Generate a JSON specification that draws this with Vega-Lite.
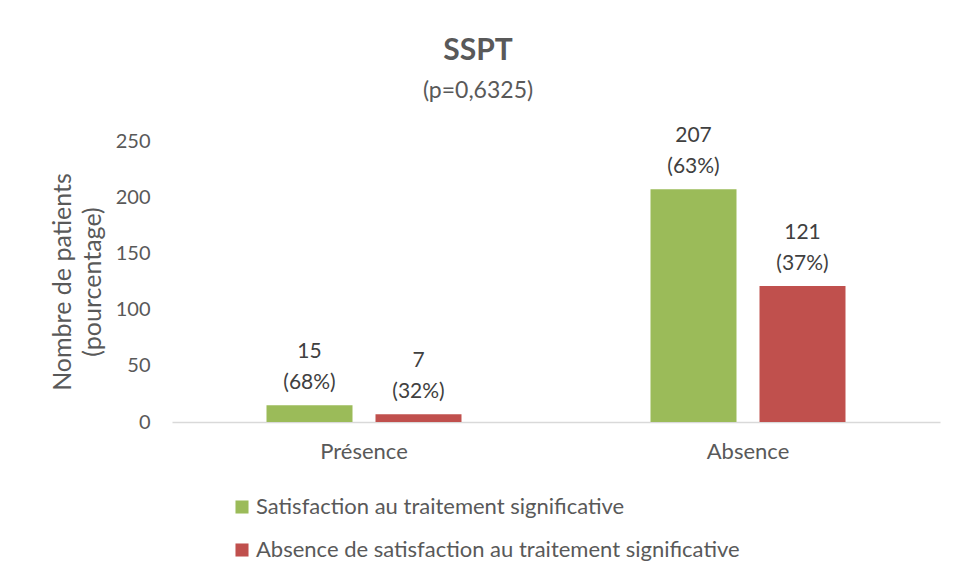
{
  "$schema": "https://vega.github.io/schema/vega-lite/v6.json",
  "autosize": {"type": "none"},
  "width": 768,
  "height": 281,
  "padding": {"left": 172, "top": 141, "right": 17, "bottom": 154},
  "background": "white",
  "config": {
    "font": "Lato",
    "view": {"stroke": null}
  },
  "title": {
    "text": "SSPT",
    "subtitle": "(p=0,6325)",
    "font": "Lato",
    "fontSize": 30,
    "fontWeight": "bold",
    "color": "#595959",
    "subtitleFont": "Lato",
    "subtitleFontSize": 23,
    "subtitleColor": "#595959",
    "subtitlePadding": 14,
    "anchor": "middle",
    "dx": -78,
    "offset": 22
  },
  "data": {
    "values": [
      {"groupe": "Présence", "serie": "Satisfaction au traitement significative", "n": 15, "label": "15\n(68%)"},
      {"groupe": "Présence", "serie": "Absence de satisfaction au traitement significative", "n": 7, "label": "7\n(32%)"},
      {"groupe": "Absence", "serie": "Satisfaction au traitement significative", "n": 207, "label": "207\n(63%)"},
      {"groupe": "Absence", "serie": "Absence de satisfaction au traitement significative", "n": 121, "label": "121\n(37%)"}
    ]
  },
  "encoding": {
    "x": {
      "field": "groupe",
      "type": "nominal",
      "sort": ["Présence", "Absence"],
      "scale": {"paddingInner": 0, "paddingOuter": 0},
      "axis": {
        "title": null,
        "labelAngle": 0,
        "labelFontSize": 22,
        "labelColor": "#595959",
        "labelFont": "Lato",
        "labelPadding": 19,
        "ticks": false,
        "domainColor": "#d9d9d9",
        "domainWidth": 1.5
      }
    },
    "xOffset": {
      "field": "serie",
      "type": "nominal",
      "sort": ["Satisfaction au traitement significative", "Absence de satisfaction au traitement significative"],
      "scale": {"paddingInner": 0.211, "paddingOuter": 0.867}
    },
    "y": {
      "field": "n",
      "type": "quantitative",
      "scale": {"domain": [0, 250]},
      "axis": {
        "title": ["Nombre de patients", "(pourcentage)"],
        "titleFontSize": 25,
        "titleFontWeight": "normal",
        "titleColor": "#595959",
        "titleFont": "Lato",
        "titleLineHeight": 30,
        "titlePadding": 10,
        "values": [0, 50, 100, 150, 200, 250],
        "labelFontSize": 20,
        "labelColor": "#595959",
        "labelFont": "Lato",
        "labelPadding": 22,
        "ticks": false,
        "domain": false,
        "grid": false
      }
    }
  },
  "layer": [
    {
      "mark": {"type": "bar"},
      "encoding": {
        "color": {
          "field": "serie",
          "type": "nominal",
          "sort": ["Satisfaction au traitement significative", "Absence de satisfaction au traitement significative"],
          "scale": {"range": ["#9BBB59", "#C0504D"]},
          "legend": {
            "title": null,
            "orient": "none",
            "legendX": 59,
            "legendY": 355,
            "direction": "vertical",
            "symbolType": "square",
            "symbolSize": 170,
            "symbolStrokeWidth": 0,
            "labelFontSize": 22,
            "labelColor": "#595959",
            "labelFont": "Lato",
            "labelOffset": 3,
            "rowPadding": 21,
            "labelLimit": 700
          }
        }
      }
    },
    {
      "mark": {"type": "text", "baseline": "bottom", "dy": -43, "fontSize": 21, "color": "#404040", "font": "Lato", "lineBreak": "\n", "lineHeight": 31},
      "encoding": {
        "text": {"field": "label"}
      }
    }
  ]
}
